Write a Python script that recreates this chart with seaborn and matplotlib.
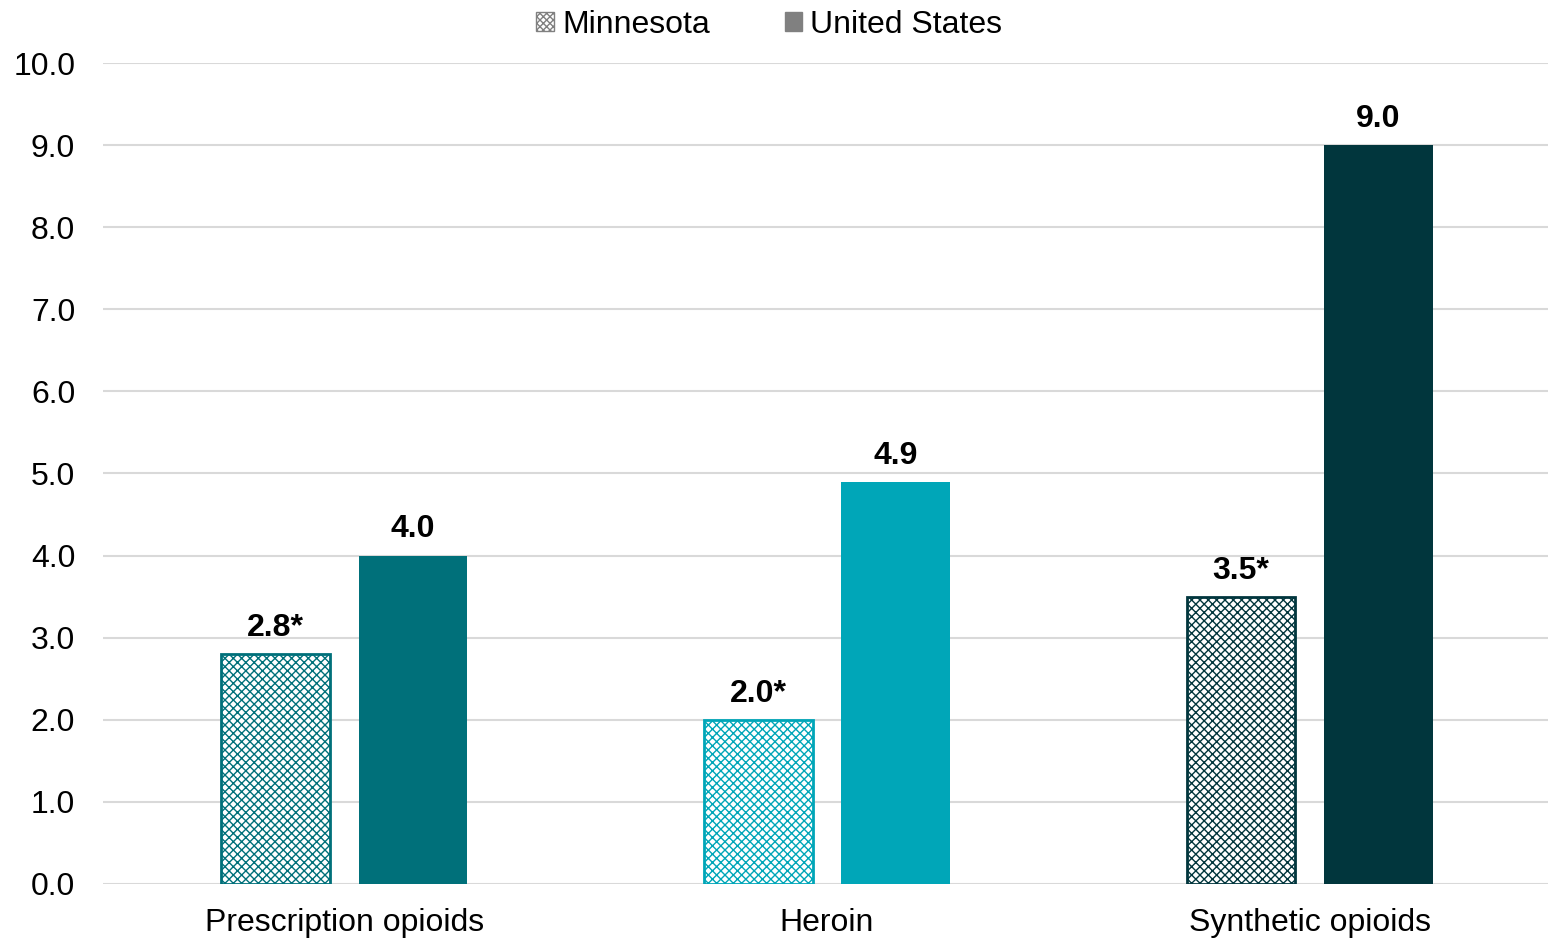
import matplotlib
matplotlib.use("Agg")
import matplotlib.pyplot as plt
from matplotlib.patches import Patch
import seaborn as sns
import pandas as pd

categories = ["Prescription opioids", "Heroin", "Synthetic opioids"]
regions = ["Minnesota", "United States"]
minnesota = [2.8, 2.0, 3.5]
united_states = [4.0, 4.9, 9.0]
mn_labels = ["2.8*", "2.0*", "3.5*"]
us_labels = ["4.0", "4.9", "9.0"]
y_ticks = [0.0, 1.0, 2.0, 3.0, 4.0, 5.0, 6.0, 7.0, 8.0, 9.0, 10.0]
category_colors = ["#00707A", "#00A6B8", "#01363D"]

df = pd.DataFrame({
    "category": categories * 2,
    "region": [regions[0]] * 3 + [regions[1]] * 3,
    "rate": minnesota + united_states,
})

sns.set_theme(style="white")
plt.rcParams["font.family"] = ["Liberation Sans", "DejaVu Sans"]
plt.rcParams["hatch.linewidth"] = 1.0

fig = plt.figure(figsize=(15.48, 9.39), dpi=100)
ax = fig.add_axes([0.0665, 0.0586, 0.9355, 0.8743])

sns.barplot(data=df, x="category", y="rate", hue="region",
            order=categories, hue_order=regions,
            width=0.569, gap=0.21, ax=ax, legend=False)

# Minnesota bars: white with a fine cross hatch; US bars: solid fill
mn_bars, us_bars = ax.containers[0], ax.containers[1]
for i, bar in enumerate(mn_bars):
    bar.set_facecolor("white")
    bar.set_edgecolor(category_colors[i])
    bar.set_hatch("xxxx")
    bar.set_linewidth(2)
for i, bar in enumerate(us_bars):
    bar.set_facecolor(category_colors[i])
    bar.set_edgecolor(category_colors[i])
    bar.set_linewidth(0)

ax.bar_label(mn_bars, labels=mn_labels, padding=8, fontsize=23,
             fontweight="bold", color="black")
ax.bar_label(us_bars, labels=us_labels, padding=8, fontsize=23,
             fontweight="bold", color="black")

ax.set_ylim(0, 10)
ax.set_xlim(-0.5, 2.5)
ax.set_yticks(y_ticks)
ax.set_yticklabels([f"{v:.1f}" for v in y_ticks])
ax.yaxis.grid(True, color="#D9D9D9", linewidth=1.5)
ax.set_axisbelow(True)
for s in ax.spines.values():
    s.set_visible(False)
ax.tick_params(axis="both", length=0, labelsize=23, colors="black")
ax.tick_params(axis="y", pad=20)
ax.tick_params(axis="x", pad=17)
ax.set_xlabel("")
ax.set_ylabel("")

handles = [
    Patch(facecolor="white", edgecolor="#808080", hatch="xxxxx", linewidth=1),
    Patch(facecolor="#808080", edgecolor="#808080"),
]
fig.legend(handles, regions, loc="upper center", bbox_to_anchor=(0.497, 1.02),
           ncol=2, frameon=False, fontsize=23, handlelength=0.55,
           handleheight=0.55, handletextpad=0.25, columnspacing=2.35,
           labelcolor="black")

fig.savefig("out.png", dpi=100)
